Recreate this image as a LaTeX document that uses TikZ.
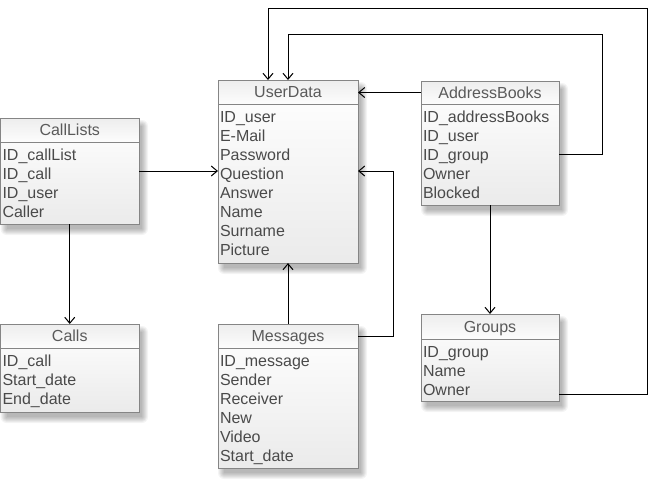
\documentclass[tikz,border=0pt]{standalone}
\usepackage{fontspec}
\setmainfont{Liberation Sans}
\usetikzlibrary{arrows.meta}
\definecolor{bord}{HTML}{858585}
\definecolor{txt}{HTML}{4A4A4A}
\definecolor{htxt}{HTML}{5A5A5A}
\tikzset{
  body/.style={draw=bord, line width=1pt, inner sep=0pt, outer sep=0pt, top color=white, bottom color=black!8},
  hdr/.style={draw=bord, line width=1pt, inner sep=0pt, outer sep=0pt, top color=black!7, bottom color=black!1, text=htxt,
    font=\fontsize{16}{19}\selectfont, text height=11.5pt, text depth=0pt},
  row/.style={inner sep=0pt, outer sep=0pt, anchor=west, text=txt, font=\fontsize{16}{19}\selectfont, text height=11.5pt, text depth=0pt},
  arr/.style={draw=black, line width=1pt, -{Straight Barb[length=6pt,width=10pt]}},
}
% #1 name, #2 x, #3 y, #4 w, #5 h, #6 header h, #7 title, #8 rows
\newcommand\entitybox[8]{%
  \foreach \s in {0,1,...,6}{
    \fill[black, opacity=0.045, rounded corners=\s pt] ({#2+6-\s},{#3+8-\s}) rectangle ({#2+#4+3+\s},{#3+#5+5+\s});
  }
  \node[body, minimum width=#4pt, minimum height=#5pt, anchor=north west] (#1) at (#2,#3) {};
  \node[hdr, minimum width=#4pt, minimum height=#6pt, anchor=north west] (#1h) at (#2,#3) {#7};
  \foreach \t [count=\i] in {#8}{
    \node[row] (#1\i) at ({#2+2},{#3+#6+12.5+19*(\i-1)}) {\t};
  }
}
\begin{document}
\begin{tikzpicture}[x=1pt,y=-1pt]
\useasboundingbox[fill=white] (0,0) rectangle (654,483);
\entitybox{ud}{218}{80}{140}{183}{24}{UserData}{ID\_user,E-Mail,Password,Question,Answer,Name,Surname,Picture}
\entitybox{ab}{421}{81}{138}{124}{23}{AddressBooks}{ID\_addressBooks,ID\_user,ID\_group,Owner,Blocked}
\entitybox{cl}{0.5}{118}{138.5}{106}{24}{CallLists}{ID\_callList,ID\_call,ID\_user,Caller}
\entitybox{ca}{0.5}{324}{138.5}{88}{24}{Calls}{ID\_call,Start\_date,End\_date}
\entitybox{ms}{218}{324}{140}{144}{24}{Messages}{ID\_message,Sender,Receiver,New,Video,Start\_date}
\entitybox{gr}{421}{314}{138}{87}{25}{Groups}{ID\_group,Name,Owner}

\coordinate (c1) at (602,34);
\coordinate (c2) at (647,8);
\coordinate (c3) at (393,171);

\draw[arr] (abh.west) -- (abh.west -| ud.east);
\draw[arr] (ab.east |- ab3) -| (c1) -| (ud.north);
\draw[arr] ([yshift=7pt]gr.south east) -| (c2) -| ([xshift=-20pt]ud.north);
\draw[arr] (ms.north) -- (ud.south);
\draw[arr] (msh.east) -| (c3) -- (c3 -| ud.east);
\draw[arr] (cl.east |- c3) -- (ud.west |- c3);
\draw[arr] (cl.south) -- (ca.north);
\draw[arr] (ab.south) -- (gr.north);
\end{tikzpicture}
\end{document}
